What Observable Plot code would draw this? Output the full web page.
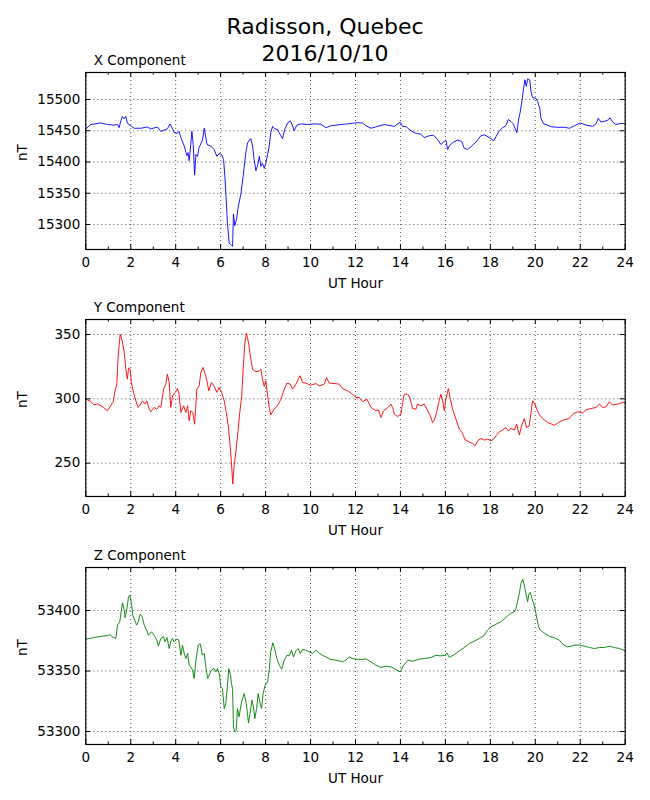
<!DOCTYPE html>
<html>
<head>
<meta charset="utf-8">
<script src="https://cdn.jsdelivr.net/npm/d3@7"></script>
<script src="https://cdn.jsdelivr.net/npm/@observablehq/plot@0.6"></script>
<style>
html, body { margin: 0; padding: 0; background: #fff; }
#wrap { position: relative; width: 650px; height: 800px; font-family: "DejaVu Sans", sans-serif; color: #000; }
.title { position: absolute; left: 0; width: 650px; text-align: center; font-size: 22px; line-height: 27px; height: 27px; white-space: nowrap; }
.panel { position: absolute; left: 0; }
</style>
</head>
<body>
<div id="wrap">
  <div class="title" style="top:13.2px">Radisson, Quebec</div>
  <div class="title" style="top:40.2px">2016/10/10</div>
  <div class="panel" id="p1" style="top:46.3px"></div>
  <div class="panel" id="p2" style="top:293.3px"></div>
  <div class="panel" id="p3" style="top:541.3px"></div>
</div>
<script>
// ---- tick labels / axis text ----
const xMajorTicks = [0, 2, 4, 6, 8, 10, 12, 14, 16, 18, 20, 22, 24];
const xMinorTicks = [1, 3, 5, 7, 9, 11, 13, 15, 17, 19, 21, 23];
const xAxisLabel = "UT Hour";
const yAxisLabel = "nT";
const xTitle = "X Component";
const yTitle = "Y Component";
const zTitle = "Z Component";
const xCompTicks = [15300, 15350, 15400, 15450, 15500];
const yCompTicks = [250, 300, 350];
const zCompTicks = [53300, 53350, 53400];
const xCompDomain = [15260, 15543.2];
const yCompDomain = [224.1, 361.65];
const zCompDomain = [53289.3, 53435.5];

// ---- X component ----
const xCompHours = [0.00,0.22,0.67,0.96,1.26,1.41,1.48,1.56,1.63,1.71,1.78,1.85,2.00,2.15,2.45,2.74,2.89,3.19,3.34,3.63,3.75,3.86,3.93,4.08,4.15,4.23,4.38,4.50,4.55,4.60,4.64,4.72,4.78,4.84,4.90,4.97,5.04,5.19,5.27,5.39,5.56,5.71,5.83,5.93,6.04,6.13,6.19,6.25,6.30,6.38,6.45,6.53,6.57,6.63,6.71,6.78,6.90,7.00,7.12,7.20,7.34,7.42,7.49,7.57,7.64,7.72,7.79,7.86,7.94,8.01,8.09,8.16,8.23,8.31,8.41,8.53,8.60,8.68,8.75,8.86,8.98,9.10,9.20,9.27,9.39,9.57,9.87,10.16,10.46,10.68,10.90,11.35,11.65,12.09,12.31,12.46,12.69,12.98,13.28,13.58,13.73,13.87,13.99,14.10,14.25,14.47,14.61,14.76,14.91,15.06,15.28,15.47,15.65,15.80,15.92,16.02,16.10,16.17,16.32,16.54,16.72,16.84,16.99,17.14,17.36,17.58,17.73,17.95,18.15,18.25,18.40,18.55,18.69,18.80,18.92,19.02,19.11,19.18,19.26,19.33,19.40,19.48,19.54,19.60,19.66,19.75,19.81,19.88,20.03,20.10,20.20,20.25,20.37,20.55,20.70,21.00,21.30,21.52,21.74,22.00,22.26,22.55,22.70,22.80,22.92,23.07,23.22,23.33,23.44,23.59,23.82,24.00];
const xCompValues = [15453,15460,15462.5,15460,15459,15460,15455,15466,15473,15469,15473,15462,15458,15454,15454,15456,15453,15456,15449,15453,15461,15453,15447,15446,15449,15439,15425.5,15410,15415,15402,15416,15449,15428,15379,15412,15409,15423,15435,15454,15428,15425.5,15420,15409,15413.6,15412,15404,15376,15338,15303,15270,15268,15265,15317,15298,15309,15328,15349,15377,15415,15431,15437.5,15425.5,15404,15386,15394,15409,15393,15398,15390,15398,15412,15425.5,15447,15457,15453,15452,15447,15442,15437.5,15453,15462.5,15466,15458,15450,15459,15461,15460,15461,15460.5,15455,15458,15460,15461,15463,15462.5,15458,15454,15457,15460,15458,15457,15461,15463.6,15457,15456.5,15450,15447,15445.6,15444.5,15439,15442,15443,15436,15428,15432,15435,15420,15425.5,15431,15435,15433,15422,15420,15424.5,15432,15442,15443.5,15439,15434,15440.5,15450,15455,15458,15468,15464.7,15461,15453,15447,15469,15480,15496,15518,15531.5,15521,15533,15531.5,15512.5,15503,15502,15497,15486,15470,15461,15459,15456.5,15455.5,15455.5,15454,15458,15462.5,15459,15457,15461,15470,15464,15465,15467,15470.6,15464,15460,15462,15461];

// ---- Y component ----
const yCompHours = [0.00,0.22,0.37,0.52,0.74,0.96,1.11,1.22,1.31,1.38,1.44,1.53,1.62,1.71,1.78,1.85,1.90,1.97,2.03,2.12,2.23,2.33,2.45,2.52,2.63,2.72,2.82,2.89,3.04,3.16,3.26,3.34,3.46,3.56,3.63,3.71,3.78,3.86,3.98,4.08,4.15,4.23,4.35,4.45,4.53,4.60,4.67,4.76,4.84,4.94,5.04,5.12,5.22,5.31,5.39,5.47,5.59,5.71,5.83,5.93,6.04,6.16,6.25,6.34,6.41,6.47,6.54,6.60,6.68,6.75,6.85,6.94,7.00,7.08,7.15,7.24,7.32,7.42,7.57,7.72,7.79,7.86,7.94,8.01,8.09,8.16,8.23,8.38,8.53,8.68,8.83,8.95,9.10,9.20,9.35,9.45,9.54,9.64,9.79,10.01,10.24,10.39,10.61,10.71,10.83,11.05,11.28,11.42,11.65,11.87,12.02,12.17,12.31,12.51,12.69,12.91,13.02,13.13,13.25,13.45,13.58,13.65,13.73,13.87,14.02,14.10,14.17,14.32,14.42,14.54,14.69,14.76,14.91,15.06,15.18,15.33,15.43,15.50,15.61,15.70,15.80,15.88,15.95,16.02,16.13,16.22,16.32,16.47,16.62,16.74,16.88,17.06,17.21,17.33,17.43,17.58,17.73,17.88,18.03,18.15,18.25,18.40,18.55,18.69,18.80,18.92,19.07,19.17,19.29,19.39,19.51,19.61,19.73,19.81,19.88,19.98,20.07,20.17,20.32,20.55,20.85,21.07,21.29,21.52,21.66,21.88,22.11,22.26,22.48,22.70,22.85,23.00,23.15,23.30,23.44,23.66,23.89,24.00];
const yCompValues = [299.7,298,295.3,296,294,290.7,294.6,297.7,307,311.4,333.4,350.3,345,336,323,315.3,324,323,312.7,305,298.4,293.3,296,298.4,296,298.4,292,290,293.3,292,294.6,293.3,307.5,311.4,319.2,312.7,293.3,302.3,305,308,303.6,289.4,294.6,289.4,294.6,283,290.7,289.4,280.3,307.5,310,320.5,324.4,319.2,314,306.2,312.7,310,305,308.8,305,298.4,289.4,279,266,253,233.7,248,259.6,271,289.4,302.3,323,343.8,351,343.8,333.4,323,321,321.7,323,315.3,309.6,314,302.3,293.3,287.6,292,294.6,299.7,307.5,312.2,311.4,307.5,311.4,315.3,317.9,312.7,312.2,310.6,311.9,310,311.4,316.6,312.2,311.9,311.4,308,306.2,303.6,301,301,297.7,299.7,293.3,290.7,291.5,285.5,290.7,293.3,295.9,293.3,288,286.3,288,297.2,303.6,303.6,301,292.5,292,295.9,294.6,296,292,286.8,281.6,283,289.4,297.2,303.6,298.4,290.7,299.7,308,299.7,292,284.2,276.4,273.8,268,266.5,265.3,263.5,267.4,269.2,267.9,268.7,267.4,268.7,271.2,274.4,275.9,277.7,275.1,276.9,275.9,280.3,271.8,279,284.7,277.7,279,289.4,298.4,295.9,292,288,284.7,281.6,279.5,282.1,283.7,284.7,288,290,289,291.5,292.5,293.3,295.9,293.3,293.8,297.7,295.1,295.9,297.2,297.2];

// ---- Z component ----
const zCompHours = [0.00,0.30,0.52,0.74,0.96,1.08,1.19,1.34,1.41,1.51,1.56,1.63,1.71,1.75,1.82,1.90,1.96,2.03,2.09,2.18,2.26,2.33,2.42,2.51,2.60,2.70,2.79,2.92,3.04,3.16,3.23,3.34,3.46,3.53,3.61,3.71,3.78,3.86,3.93,4.05,4.14,4.23,4.30,4.38,4.45,4.53,4.60,4.67,4.75,4.82,4.90,5.00,5.09,5.19,5.27,5.34,5.42,5.49,5.59,5.71,5.79,5.86,5.95,6.01,6.08,6.16,6.23,6.31,6.36,6.44,6.48,6.53,6.57,6.63,6.69,6.75,6.82,6.93,7.05,7.14,7.24,7.31,7.39,7.46,7.52,7.60,7.67,7.74,7.82,7.89,7.98,8.09,8.16,8.23,8.32,8.41,8.50,8.61,8.72,8.83,8.95,9.05,9.15,9.24,9.35,9.45,9.54,9.64,9.79,9.94,10.09,10.24,10.39,10.53,10.68,10.90,11.13,11.42,11.57,11.72,11.87,12.02,12.24,12.46,12.69,12.91,13.13,13.35,13.58,13.80,13.99,14.14,14.35,14.54,14.84,15.06,15.36,15.58,15.80,15.98,16.07,16.17,16.40,16.62,16.84,17.06,17.28,17.51,17.70,17.88,18.03,18.25,18.47,18.69,18.89,19.07,19.14,19.21,19.29,19.36,19.44,19.51,19.58,19.66,19.72,19.78,19.85,19.93,20.00,20.07,20.15,20.22,20.33,20.47,20.62,20.85,21.07,21.22,21.42,21.60,21.74,21.97,22.19,22.42,22.64,22.85,23.07,23.30,23.52,23.74,24.00];
const zCompValues = [53376.3,53377.4,53378.2,53378.8,53379.3,53379.9,53378.2,53376.9,53387.9,53390.6,53397.5,53406.3,53400.3,53394.2,53400.3,53411.3,53412.7,53405.8,53396,53391.9,53387.9,53390.6,53397,53394.8,53387.9,53383.8,53379.6,53382.4,53379.6,53375.5,53370.5,53376.9,53378.2,53374.1,53377.7,53368.6,53374.1,53376.9,53374.1,53376.3,53375.5,53363,53371.4,53364.5,53360.3,53364.5,53354.8,53353.4,53350.7,53343.8,53358.9,53371.4,53372.7,53363,53364.5,53353.4,53343.8,53346.6,53350.7,53352.1,53349.3,53352.1,53346.6,53336.9,53335.5,53319,53323.1,53339.7,53352,53346.6,53339.7,53335.5,53303.9,53299.7,53301.1,53319,53312.1,53324.5,53331.4,53323.1,53307.2,53314.9,53326,53320.4,53310.7,53319,53331.4,53324.5,53319,53331.4,53338.3,53341,53350.7,53365.8,53373.3,53367.8,53360.3,53354.8,53351.5,53358.9,53363,53362.5,53367.2,53361.7,53366.7,53368.6,53364.5,53367.8,53367.2,53365.8,53364.5,53367.2,53364.5,53363,53361.7,53359.5,53359,53357.6,53359,53361.7,53360.3,53359.8,53359.5,53360,53357.6,53354.8,53352.9,53354,53353.4,53351.2,53349.3,53354.8,53359,53358.1,53359.8,53360.3,53361.2,53363,53362.5,53363,53365,53361.2,53363.6,53366.7,53369.4,53372.7,53374.6,53376.9,53378.8,53383.8,53386.5,53388.7,53390.6,53394.2,53397.5,53399,53401.6,53407.2,53414.1,53422.3,53425.9,53420.9,53414.1,53407.2,53414.1,53414.9,53409.9,53405.8,53400.3,53393.4,53386.5,53383.8,53382.4,53380.4,53378.8,53377.4,53375.5,53372.2,53370,53370.5,53371.4,53371.4,53370.5,53369.4,53368.6,53369.4,53369.4,53370.5,53369.4,53368.6,53366.7];

function panel({hours, values, domain, yTicks, color, title}) {
  const W = 650, mL = 85.3, mR = 25.3, mT = 26, mB = 44, innerH = 177;
  const innerW = W - mL - mR;
  const data = hours.map((h, i) => ({h, v: values[i]}));
  const grid = {stroke: "#000", strokeWidth: 0.8, strokeDasharray: "1,3", strokeOpacity: 0.85};
  return Plot.plot({
    width: W,
    height: mT + innerH + mB,
    marginLeft: mL, marginRight: mR, marginTop: mT, marginBottom: mB,
    style: {fontFamily: "DejaVu Sans", fontSize: "13.5px", background: "transparent", color: "#000", overflow: "visible"},
    x: {domain: [0, 24]},
    y: {domain},
    marks: [
      Plot.ruleX(xMajorTicks, {x: d => d, ...grid}),
      Plot.ruleY(yTicks, {y: d => d, ...grid}),
      Plot.line(data, {x: "h", y: "v", stroke: color, strokeWidth: 0.9}),
      Plot.frame({stroke: "#000", strokeWidth: 1.2}),
      Plot.tickX(xMajorTicks, {x: d => d, insetTop: innerH - 5, stroke: "#000"}),
      Plot.tickX(xMajorTicks, {x: d => d, insetBottom: innerH - 5, stroke: "#000"}),
      Plot.tickX(xMinorTicks, {x: d => d, insetTop: innerH - 2.5, stroke: "#000"}),
      Plot.tickX(xMinorTicks, {x: d => d, insetBottom: innerH - 2.5, stroke: "#000"}),
      Plot.tickY(yTicks, {y: d => d, insetRight: innerW - 5, stroke: "#000"}),
      Plot.tickY(yTicks, {y: d => d, insetLeft: innerW - 5, stroke: "#000"}),
      Plot.axisX(xMajorTicks, {tickSize: 0, tickPadding: 8, label: null, tickFormat: d3.format("d")}),
      Plot.axisY(yTicks, {tickSize: 0, tickPadding: 5.5, label: null, tickFormat: d3.format("d")}),
      Plot.text([xAxisLabel], {text: d => d, frameAnchor: "bottom", dy: 29, lineAnchor: "top"}),
      Plot.text([yAxisLabel], {text: d => d, frameAnchor: "left", dx: -63, rotate: -90}),
      Plot.text([title], {text: d => d, frameAnchor: "top-left", dx: 8, dy: -7.6, textAnchor: "start", lineAnchor: "bottom"})
    ]
  });
}

document.getElementById("p1").append(panel({hours: xCompHours, values: xCompValues, domain: xCompDomain, yTicks: xCompTicks, color: "#0000ff", title: xTitle}));
document.getElementById("p2").append(panel({hours: yCompHours, values: yCompValues, domain: yCompDomain, yTicks: yCompTicks, color: "#ff0000", title: yTitle}));
document.getElementById("p3").append(panel({hours: zCompHours, values: zCompValues, domain: zCompDomain, yTicks: zCompTicks, color: "#008000", title: zTitle}));
</script>
</body>
</html>
